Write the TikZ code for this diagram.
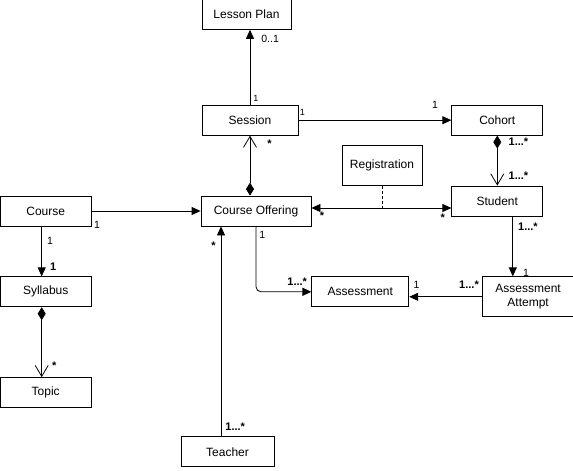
\documentclass[tikz,border=0pt]{standalone}
\usepackage{fontspec}
\setmainfont{Liberation Sans}
\usetikzlibrary{positioning, arrows.meta}

\begin{document}
\begin{tikzpicture}[
    x=1pt, y=-1pt,
    line width=0.8pt,
    % Styles for classes, associations and multiplicities
    cls/.style={rectangle, draw=black, fill=white, minimum width=91pt, minimum height=30pt, inner sep=2pt, font=\fontsize{12}{14}\selectfont, align=center},
    assoc/.style={-{Triangle[length=9pt,width=8pt]}},
    both/.style={{Triangle[length=9pt,width=8pt]}-{Triangle[length=9pt,width=8pt]}},
    comp/.style={{Diamond[length=13pt,width=8pt]}-{Straight Barb[length=11pt,width=13pt]}},
    mult/.style={font=\fontsize{10.5}{12}\selectfont, inner sep=1pt},
    multb/.style={font=\fontsize{11}{12}\selectfont\bfseries, inner sep=1pt},
    smallmult/.style={font=\fontsize{9}{10}\selectfont, inner sep=1pt}
]
  \useasboundingbox (0,0) rectangle (573,471);

  % --- CENTRE: COURSE OFFERING ---
  \node[cls, minimum width=110pt] (offering) at (256,211) {Course Offering};

  % --- TOP ROW ---
  \node[cls, minimum width=96pt, above=60pt of offering, xshift=-6pt] (session) {Session};
  \node[cls, minimum width=89pt, above=75pt of session, xshift=-3.5pt] (lesson) {Lesson Plan};
  \node[cls, right=153pt of session] (cohort) {Cohort};
  \node[cls, below=50pt of cohort] (student) {Student};
  \node[cls, minimum width=80pt, minimum height=40pt, left=29pt of student.north west, anchor=south east] (registration) {Registration};

  % --- LEFT COLUMN ---
  \node[cls, left=109pt of offering] (course) {Course};
  \node[cls, below=50pt of course] (syllabus) {Syllabus};
  \node[cls, below=70pt of syllabus] (topic) {Topic};

  % --- ASSESSMENTS & TEACHER ---
  \node[cls, minimum width=97pt, below=50pt of offering.south east, anchor=north west] (assessment) {Assessment};
  \node[cls, minimum height=40pt, right=73pt of assessment, yshift=-5pt] (attempt) {Assessment\\Attempt};
  \node[cls, minimum width=93pt, below=210pt of offering, xshift=-28.5pt] (teacher) {Teacher};

  % --- ASSOCIATIONS ---
  \draw[assoc] (session.north) -- (session.north |- lesson.south)
    node[mult, at end, anchor=north west, xshift=10pt, yshift=-4pt] {0..1}
    node[smallmult, at start, anchor=south west, xshift=2pt, yshift=2pt] {1};
  \draw[assoc] (session.east) -- (cohort.west)
    node[smallmult, at start, anchor=south west, yshift=3pt] {1}
    node[mult, at end, anchor=south east, xshift=-12pt, yshift=10pt] {1};
  \draw[comp] (session.south |- offering.north) -- (session.south)
    node[multb, at end, anchor=north west, xshift=16pt, yshift=-3pt] {*};
  \draw[comp] (cohort.south) -- (student.north)
    node[multb, at start, anchor=north west, xshift=10pt, yshift=-1pt] {1...*}
    node[multb, at end, anchor=south west, xshift=10pt, yshift=5pt] {1...*};

  % Registration as association class
  \draw[both] ([yshift=3pt]offering.east) -- ([yshift=3pt]offering.east -| student.west) coordinate[midway] (regline)
    node[multb, at start, anchor=north west, xshift=7pt, yshift=-3pt] {*}
    node[multb, at end, anchor=north east, xshift=-5pt, yshift=-5pt] {*};
  \draw[dash pattern=on 3pt off 2pt] (registration.south) -- (registration.south |- regline);

  % Course sub-hierarchy
  \draw[assoc] (course.east) -- (offering.west)
    node[mult, at start, anchor=north west, xshift=1pt, yshift=-9pt] {1};
  \draw[assoc] ([xshift=-4pt]course.south) -- ([xshift=-4pt]syllabus.north)
    node[mult, at start, anchor=north west, xshift=4pt, yshift=-9pt] {1}
    node[multb, at end, anchor=south west, xshift=7pt, yshift=5pt] {1};
  \draw[comp] ([xshift=-4pt]syllabus.south) -- ([xshift=-4pt]topic.north)
    node[multb, at end, anchor=south west, xshift=9pt, yshift=6pt] {*};

  % Assessments
  \draw[assoc, rounded corners=5pt] (offering.south) |- (assessment.west)
    node[mult, at start, anchor=north west, xshift=2pt, yshift=-3pt] {1}
    node[multb, at end, anchor=south east, xshift=-3pt, yshift=5pt] {1...*};
  \draw[assoc] ([xshift=15.5pt]student.south) -- ([xshift=15.5pt]student.south |- attempt.north)
    node[multb, at start, anchor=north west, xshift=4pt, yshift=-5pt] {1...*}
    node[mult, at end, anchor=south west, xshift=9pt, yshift=-1pt] {1};
  \draw[assoc] (attempt.west) -- (attempt.west -| assessment.east)
    node[multb, at start, anchor=south east, xshift=-2pt, yshift=7pt] {1...*}
    node[mult, at end, anchor=south west, xshift=3pt, yshift=7pt] {1};

  % Teacher
  \draw[assoc] ([xshift=-6.5pt]teacher.north) -- ([xshift=-6.5pt]teacher.north |- offering.south)
    node[multb, at end, anchor=north east, xshift=-4pt, yshift=-14pt] {*}
    node[multb, at start, anchor=south west, xshift=3pt, yshift=5pt] {1...*};

\end{tikzpicture}
\end{document}
